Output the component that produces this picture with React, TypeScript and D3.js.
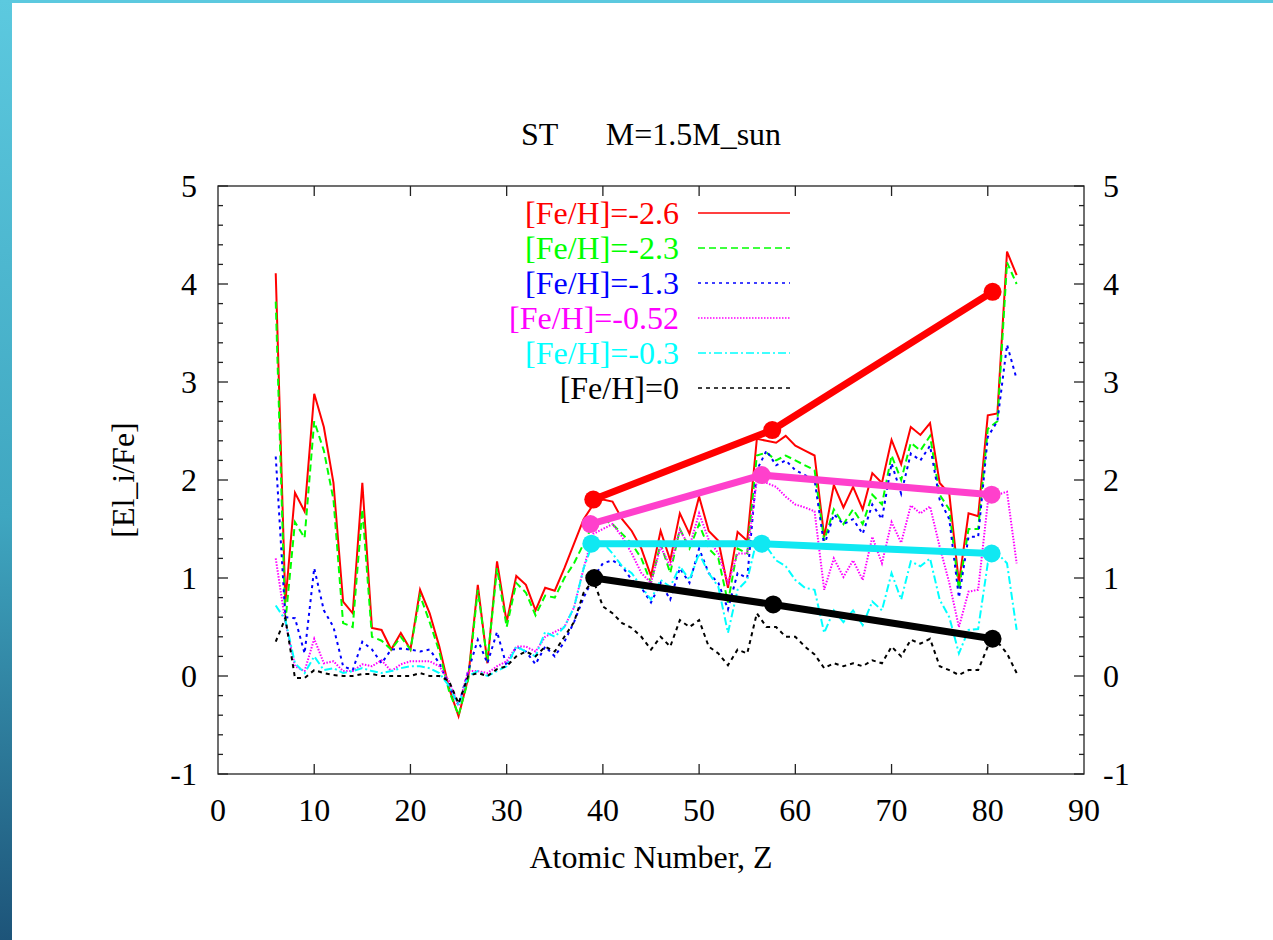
import React from "react";
import * as d3 from "d3";

// Atomic numbers of the computed abundance curves
const Z = d3.range(6, 84);

const feh26 = [4.11, 0.75, 1.87, 1.68, 2.88, 2.54, 1.97, 0.76, 0.64, 1.97, 0.49, 0.47, 0.27, 0.44, 0.27, 0.88, 0.64, 0.3, -0.12, -0.41, -0.02, 0.93, 0.13, 1.17, 0.55, 1.02, 0.93, 0.67, 0.9, 0.87, 1.1, 1.35, 1.6, 1.75, 1.8, 1.78, 1.6, 1.48, 1.3, 1.02, 1.48, 1.18, 1.66, 1.45, 1.83, 1.48, 1.38, 0.9, 1.47, 1.38, 2.42, 2.4, 2.38, 2.45, 2.35, 2.3, 2.25, 1.42, 1.95, 1.72, 1.93, 1.7, 2.07, 1.97, 2.41, 2.16, 2.54, 2.46, 2.58, 1.97, 1.86, 0.95, 1.66, 1.63, 2.66, 2.68, 4.33, 4.09];
const feh23 = [3.82, 0.55, 1.57, 1.41, 2.6, 2.3, 1.8, 0.54, 0.5, 1.7, 0.4, 0.36, 0.27, 0.4, 0.27, 0.82, 0.55, 0.25, -0.15, -0.4, -0.04, 0.88, 0.15, 1.1, 0.5, 0.95, 0.85, 0.62, 0.82, 0.8, 1.0, 1.15, 1.35, 1.55, 1.6, 1.55, 1.45, 1.35, 1.2, 0.95, 1.35, 1.05, 1.5, 1.3, 1.55, 1.3, 1.2, 0.75, 1.3, 1.25, 2.25, 2.28, 2.2, 2.25, 2.2, 2.15, 2.1, 1.38, 1.7, 1.55, 1.7, 1.55, 1.85, 1.75, 2.25, 2.0, 2.38, 2.3, 2.45, 1.85, 1.7, 0.88, 1.5, 1.5, 2.52, 2.6, 4.22, 4.0];
const feh13 = [2.24, 0.6, 0.59, 0.23, 1.1, 0.67, 0.5, 0.1, 0.06, 0.35, 0.27, 0.13, 0.27, 0.28, 0.27, 0.25, 0.27, 0.13, -0.1, -0.3, 0.05, 0.37, 0.13, 0.45, 0.1, 0.3, 0.25, 0.12, 0.3, 0.2, 0.35, 0.55, 0.8, 1.0, 1.15, 1.18, 1.12, 0.98, 0.9, 0.75, 0.95, 0.78, 1.1, 0.95, 1.3, 1.05, 0.95, 0.68, 1.05, 1.0, 2.1, 2.3, 2.15, 2.2, 2.1, 2.05, 2.0, 1.33, 1.65, 1.55, 1.6, 1.45, 1.75, 1.6, 2.17, 1.86, 2.27, 2.2, 2.35, 1.8, 1.6, 0.8, 1.42, 1.42, 2.44, 2.6, 3.38, 3.03];
const feh052 = [1.2, 0.55, 0.1, 0.05, 0.38, 0.13, 0.15, 0.05, 0.05, 0.12, 0.1, 0.16, 0.05, 0.12, 0.15, 0.15, 0.15, 0.1, -0.05, -0.3, 0.05, 0.05, 0.03, 0.1, 0.15, 0.3, 0.3, 0.25, 0.4, 0.45, 0.5, 0.7, 1.1, 1.45, 1.5, 1.55, 1.42, 1.25, 1.05, 0.95, 1.32, 1.12, 1.49, 1.32, 1.66, 1.39, 1.25, 0.95, 1.25, 1.25, 2.0, 1.97, 1.93, 1.83, 1.75, 1.72, 1.68, 0.88, 1.2, 1.01, 1.18, 0.98, 1.42, 1.15, 1.57, 1.36, 1.74, 1.66, 1.73, 1.32, 0.95, 0.5, 0.86, 0.88, 1.77, 1.85, 1.88, 1.15];
const feh03 = [0.72, 0.57, 0.13, 0.03, 0.2, 0.06, 0.08, 0.03, 0.05, 0.08, 0.05, 0.03, 0.05, 0.08, 0.1, 0.1, 0.08, 0.03, -0.1, -0.3, 0.0, 0.05, 0.0, 0.05, 0.1, 0.3, 0.25, 0.2, 0.45, 0.4, 0.5, 0.7, 1.1, 1.37, 1.36, 1.25, 1.12, 1.05, 0.91, 0.78, 0.98, 0.91, 1.12, 0.98, 1.25, 1.05, 0.91, 0.44, 0.88, 0.98, 1.39, 1.32, 1.18, 1.12, 0.98, 0.9, 0.88, 0.44, 0.67, 0.55, 0.67, 0.52, 0.76, 0.67, 1.05, 0.78, 1.17, 1.12, 1.2, 0.78, 0.6, 0.23, 0.47, 0.48, 1.15, 1.25, 1.15, 0.47];
const feh0 = [0.35, 0.59, -0.02, -0.02, 0.06, 0.03, 0.01, 0.0, 0.0, 0.02, 0.02, 0.0, 0.0, 0.0, 0.0, 0.03, 0.0, 0.0, -0.05, -0.28, 0.0, 0.03, 0.0, 0.07, 0.1, 0.2, 0.25, 0.2, 0.3, 0.25, 0.4, 0.55, 0.85, 0.98, 0.71, 0.64, 0.54, 0.49, 0.4, 0.27, 0.4, 0.3, 0.57, 0.5, 0.57, 0.3, 0.23, 0.11, 0.27, 0.23, 0.64, 0.5, 0.5, 0.4, 0.4, 0.3, 0.22, 0.08, 0.13, 0.1, 0.13, 0.1, 0.16, 0.13, 0.3, 0.2, 0.37, 0.33, 0.38, 0.1, 0.06, 0.01, 0.06, 0.06, 0.3, 0.35, 0.23, 0.03];

// Peak-averaged abundances (first, second, third s-process peaks)
const peakRedZ = [39, 57.6, 80.5];
const peakRedV = [1.8, 2.51, 3.92];
const peakPinkZ = [38.7, 56.5, 80.4];
const peakPinkV = [1.55, 2.05, 1.85];
const peakCyanZ = [38.8, 56.5, 80.4];
const peakCyanV = [1.35, 1.35, 1.25];
const peakBlackZ = [39.1, 57.7, 80.5];
const peakBlackV = [1.0, 0.73, 0.38];

const xTicks = [0, 10, 20, 30, 40, 50, 60, 70, 80, 90];
const yTicks = [-1, 0, 1, 2, 3, 4, 5];
const yMinorTicks = d3.range(-1, 5.0001, 0.2);

const seriesLabels = ["[Fe/H]=-2.6", "[Fe/H]=-2.3", "[Fe/H]=-1.3", "[Fe/H]=-0.52", "[Fe/H]=-0.3", "[Fe/H]=0"];

const W = 1273;
const H = 940;
const left = 218;
const right = 1084;
const top = 186;
const bottom = 774;
const FONT = "'Liberation Serif', 'Times New Roman', serif";
const FS = 32;

export default function App() {
  const x = d3.scaleLinear().domain([0, 90]).range([left, right]);
  const y = d3.scaleLinear().domain([-1, 5]).range([bottom, top]);

  const line = d3
    .line<[number, number]>()
    .x((d) => x(d[0]))
    .y((d) => y(d[1]));

  const series = [
    { label: seriesLabels[0], values: feh26, color: "#ff0000", dash: "none" },
    { label: seriesLabels[1], values: feh23, color: "#00ff00", dash: "7,4" },
    { label: seriesLabels[2], values: feh13, color: "#0000ff", dash: "3,4" },
    { label: seriesLabels[3], values: feh052, color: "#ff00ff", dash: "1.5,1.5" },
    { label: seriesLabels[4], values: feh03, color: "#00ffff", dash: "8,3,2,3" },
    { label: seriesLabels[5], values: feh0, color: "#000000", dash: "4,4" },
  ];

  const peaks = [
    { zs: peakRedZ, vs: peakRedV, color: "#ff0000" },
    { zs: peakPinkZ, vs: peakPinkV, color: "#ff40cc" },
    { zs: peakCyanZ, vs: peakCyanV, color: "#10e8f2" },
    { zs: peakBlackZ, vs: peakBlackV, color: "#000000" },
  ];

  const legendTextX = 679;
  const legendLine0 = 698;
  const legendLine1 = 790;
  const legendY0 = 213;
  const legendStep = 35;

  return (
    <svg
      width={W}
      height={H}
      viewBox={`0 0 ${W} ${H}`}
      style={{ position: "absolute", left: 0, top: 0, display: "block", background: "#fff" }}
    >
      <defs>
        <linearGradient id="edge" x1="0" y1="0" x2="0" y2="1">
          <stop offset="0%" stopColor="#5cc9df" />
          <stop offset="55%" stopColor="#3fa6c0" />
          <stop offset="100%" stopColor="#1d5479" />
        </linearGradient>
      </defs>
      <rect x={0} y={0} width={W} height={H} fill="#ffffff" />
      <rect x={0} y={0} width={W} height={3} fill="#5cc9df" />
      <rect x={0} y={0} width={12} height={H} fill="url(#edge)" />

      {/* title */}
      <text
        x={(left + right) / 2}
        y={145}
        textAnchor="middle"
        fontFamily={FONT}
        fontSize={FS}
        style={{ whiteSpace: "pre" }}
      >
        {"ST      M=1.5M_sun"}
      </text>

      {/* frame and ticks */}
      <g stroke="#222" strokeWidth={1.3} fill="none">
        <rect x={left} y={top} width={right - left} height={bottom - top} />
        {xTicks.slice(1, -1).map((t) => (
          <g key={`xt${t}`}>
            <line x1={x(t)} x2={x(t)} y1={bottom} y2={bottom - 10} />
            <line x1={x(t)} x2={x(t)} y1={top} y2={top + 10} />
          </g>
        ))}
        {yMinorTicks.map((t, i) => {
          const major = i % 5 === 0;
          const len = major ? 10 : 5;
          return (
            <g key={`yt${i}`}>
              <line x1={left} x2={left + len} y1={y(t)} y2={y(t)} />
              <line x1={right} x2={right - len} y1={y(t)} y2={y(t)} />
            </g>
          );
        })}
      </g>

      {/* tick labels */}
      <g fontFamily={FONT} fontSize={FS} fill="#000">
        {xTicks.map((t) => (
          <text key={`xl${t}`} x={x(t)} y={821} textAnchor="middle">
            {t}
          </text>
        ))}
        {yTicks.map((t) => (
          <text key={`yl${t}`} x={197} y={y(t) + 11} textAnchor="end">
            {t}
          </text>
        ))}
        {yTicks.map((t) => (
          <text key={`yr${t}`} x={1103} y={y(t) + 11} textAnchor="start">
            {t}
          </text>
        ))}
        <text x={(left + right) / 2} y={868} textAnchor="middle">
          Atomic Number, Z
        </text>
        <text x={0} y={0} textAnchor="middle" transform={`translate(134, ${(top + bottom) / 2}) rotate(-90)`}>
          [El_i/Fe]
        </text>
      </g>

      {/* model curves */}
      <g fill="none" strokeLinejoin="miter">
        {series.map((s) => (
          <path
            key={s.label}
            d={line(Z.map((z, i) => [z, s.values[i]] as [number, number])) || ""}
            stroke={s.color}
            strokeWidth={2}
            strokeDasharray={s.dash}
          />
        ))}
      </g>

      {/* peak averages */}
      {peaks.map((p, k) => {
        const pts = p.zs.map((z, i) => [z, p.vs[i]] as [number, number]);
        return (
          <g key={`pk${k}`}>
            <path d={line(pts) || ""} stroke={p.color} strokeWidth={7} fill="none" />
            {pts.map((d, i) => (
              <circle key={i} cx={x(d[0])} cy={y(d[1])} r={9} fill={p.color} />
            ))}
          </g>
        );
      })}

      {/* legend */}
      <g fontFamily={FONT} fontSize={FS}>
        {series.map((s, i) => {
          const ly = legendY0 + i * legendStep;
          return (
            <g key={`lg${i}`}>
              <text x={legendTextX} y={ly + 11} textAnchor="end" fill={s.color}>
                {s.label}
              </text>
              <line
                x1={legendLine0}
                x2={legendLine1}
                y1={ly}
                y2={ly}
                stroke={s.color}
                strokeWidth={1.3}
                strokeDasharray={s.dash}
              />
            </g>
          );
        })}
      </g>
    </svg>
  );
}
